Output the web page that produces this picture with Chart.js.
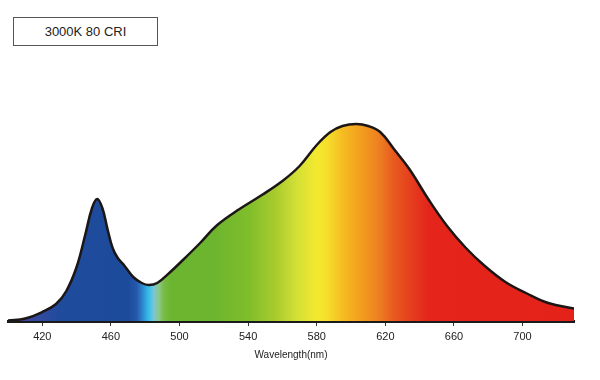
<!DOCTYPE html>
<html>
<head>
<meta charset="utf-8">
<script src="https://cdn.jsdelivr.net/npm/chart.js@4/dist/chart.umd.min.js"></script>
<style>
  html, body { margin: 0; padding: 0; background: #fff; }
  #wrap { position: relative; width: 600px; height: 380px; }
  #legendBox {
    position: absolute; left: 13px; top: 17px; width: 143px; height: 27px;
    border: 1px solid #555; background: #fff;
    font: 13px "Liberation Sans", Arial, sans-serif; color: #222;
    display: flex; align-items: center; justify-content: center;
  }
</style>
</head>
<body>
<div id="wrap">
  <canvas id="c" width="600" height="380"></canvas>
  <div id="legendBox">3000K 80 CRI</div>
</div>
<script>
// Data (relative spectral power, arbitrary units)
const wavelengths = [400, 410, 420, 428, 434, 440, 445, 449, 452, 455, 458, 461, 464, 468, 473, 478, 482, 487, 494, 502, 512, 522, 535, 548, 560, 570, 580, 588, 595, 603, 610, 617, 625, 634, 645, 656, 667, 678, 690, 702, 715, 730];
const intensity   = [0.5, 2.5, 9, 17, 30, 54, 86, 113, 122, 113, 92, 73, 63, 55, 44, 38, 36, 38, 48, 61, 78, 96, 112, 126, 140, 155, 176, 189, 195, 197, 195, 189, 172, 152, 122, 95, 73, 55, 39, 28, 18, 12.5];
const tickValues  = [420, 460, 500, 540, 580, 620, 660, 700];
const axisTitle   = 'Wavelength(nm)';

// Spectrum colour stops used for the fill gradient
const stopNm     = [400, 420, 430, 470, 475, 479, 482, 485, 488, 491, 495, 520, 540, 556, 568, 580, 586, 595, 605, 615, 625, 635, 645, 730];
const stopColors = ['#4a3f98', '#2f4a9f', '#1f4b9c', '#1d4b9b', '#2558ac', '#2f8fd2', '#36bdec', '#79c6d6', '#8cc784', '#78bb45', '#6cb530', '#6db52f', '#7fbd2b', '#a8cb2d', '#d2df35', '#f4e92f', '#f6df2c', '#f5bd22', '#f3a01e', '#ee8420', '#e85a1f', '#e53e1e', '#e4251b', '#e4221a'];

const points = wavelengths.map((w, i) => ({ x: w, y: intensity[i] }));

function spectrumFill(ctx) {
  const chart = ctx.chart;
  if (!chart.chartArea) return '#6cb530';
  const xs = chart.scales.x;
  const x0 = xs.getPixelForValue(400), x1 = xs.getPixelForValue(730);
  const g = chart.ctx.createLinearGradient(x0, 0, x1, 0);
  stopNm.forEach((nm, i) => g.addColorStop((nm - 400) / 330, stopColors[i]));
  return g;
}

new Chart(document.getElementById('c'), {
  type: 'line',
  data: {
    datasets: [{
      data: points,
      borderColor: '#1c1616',
      borderWidth: 2.5,
      pointRadius: 0,
      fill: 'origin',
      backgroundColor: spectrumFill,
      tension: 0.4
    }]
  },
  options: {
    responsive: false,
    animation: false,
    layout: { padding: { left: 8, right: 26, top: 100, bottom: 0 } },
    plugins: { legend: { display: false }, tooltip: { enabled: false } },
    scales: {
      x: {
        type: 'linear', min: 400, max: 730,
        afterBuildTicks: (s) => { s.ticks = tickValues.map(v => ({ value: v })); },
        afterFit: (s) => { s.height = 59; },
        grid: { display: true, drawOnChartArea: false, drawTicks: true, tickLength: 5, color: '#333', lineWidth: 1 },
        border: { display: true, color: '#1a1a1a', width: 3 },
        ticks: { color: '#222', font: { family: 'Liberation Sans, Arial', size: 11 }, padding: 4, maxRotation: 0 },
        title: { display: true, text: axisTitle, color: '#222', font: { family: 'Liberation Sans, Arial', size: 10 }, padding: { top: 2, bottom: 19 } }
      },
      y: { display: false, min: 0, max: 221 }
    }
  }
});
</script>
</body>
</html>
